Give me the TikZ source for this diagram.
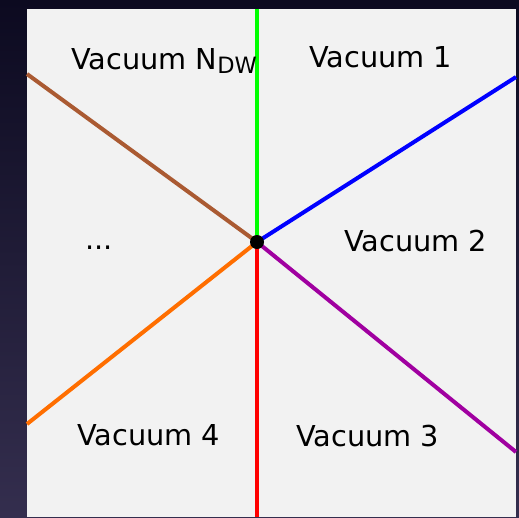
\documentclass[tikz,border=0pt]{standalone}
\usepackage{fontspec}
\setmainfont{DejaVu Sans}
\begin{document}
\begin{tikzpicture}[x=1pt,y=-1pt,
  wall/.style={line width=4pt},
  lab/.style={font=\fontsize{28.8}{32}\selectfont, text=black, inner sep=0pt}]
\useasboundingbox (0,0) rectangle (519,517);
\shade[top color={rgb,255:red,12;green,10;blue,32}, bottom color={rgb,255:red,52;green,46;blue,78}] (0,0) rectangle (519,517);
\fill[fill={rgb,255:red,242;green,242;blue,242}] (27,9) rectangle (516,517);
\coordinate (c) at (257,242);
\coordinate (top) at (257,9);
\coordinate (bot) at (257,517);
\coordinate (ul) at (27,74);
\coordinate (ur) at (516,77);
\coordinate (lr) at (516,452);
\coordinate (ll) at (27,424);
\draw[wall, color={rgb,255:red,0;green,255;blue,0}] (c) -- (top);
\draw[wall, color={rgb,255:red,255;green,0;blue,0}] (c) -- (bot);
\draw[wall, color={rgb,255:red,170;green,90;blue,50}] (c) -- (ul);
\draw[wall, color={rgb,255:red,0;green,0;blue,255}] (c) -- (ur);
\draw[wall, color={rgb,255:red,160;green,0;blue,160}] (c) -- (lr);
\draw[wall, color={rgb,255:red,255;green,110;blue,0}] (c) -- (ll);
\fill[black] (c) circle (7);
\node[lab, anchor=base west] (vn) at (71,69) {Vacuum N\raisebox{-0.3ex}{\fontsize{22.5}{24}\selectfont DW}};
\node[lab, anchor=base west] (v1) at (309,67) {Vacuum 1};
\node[lab, anchor=base west] (v2) at (344,251) {Vacuum 2};
\node[lab, anchor=base west] (v3) at (296,446) {Vacuum 3};
\node[lab, anchor=base west] (v4) at (77,445) {Vacuum 4};
\node[lab, anchor=base west] (dots) at (85,249) {...};
\end{tikzpicture}
\end{document}
